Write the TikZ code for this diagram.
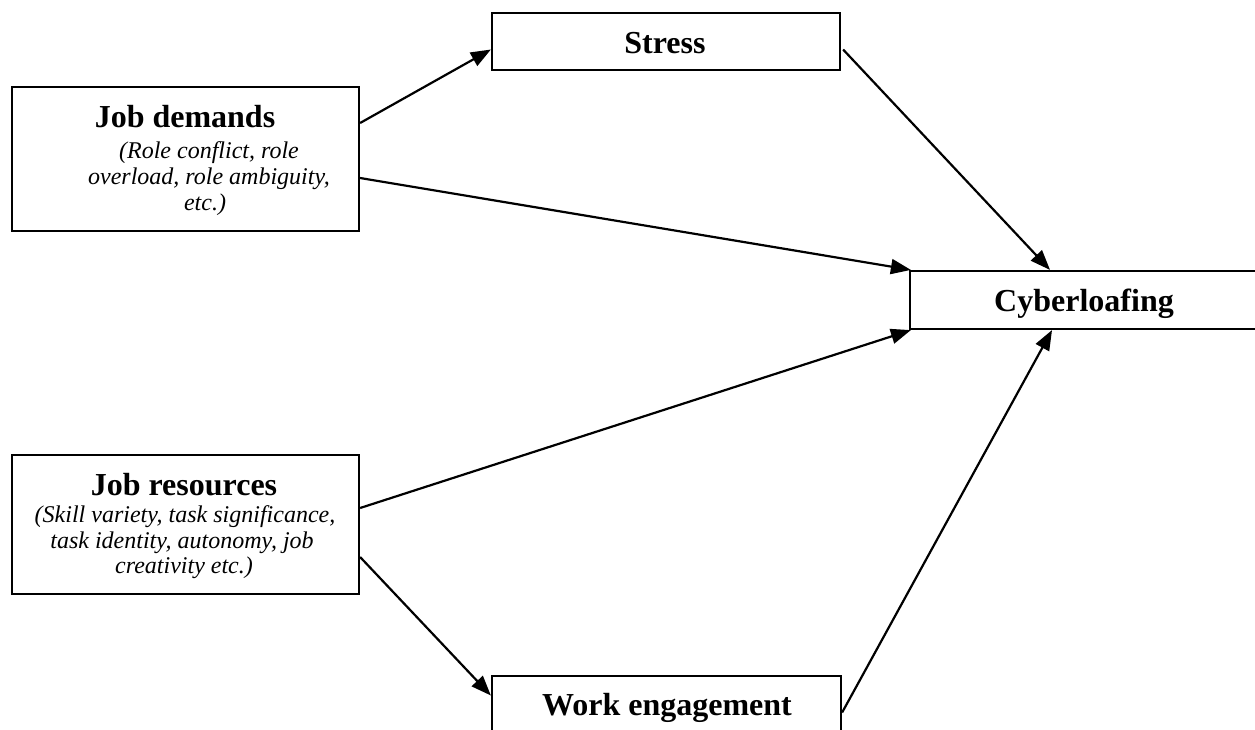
\documentclass[tikz,border=0pt]{standalone}
\usepackage{fontspec}
\setmainfont{Liberation Serif}
\usetikzlibrary{arrows.meta}
\begin{document}
\begin{tikzpicture}[x=1pt,y=-1pt,
  box/.style={draw,line width=2.2pt,rectangle,inner sep=0pt},
  ttl/.style={anchor=base,inner sep=0pt,font=\fontsize{32}{38}\selectfont\bfseries},
  sub/.style={anchor=base,inner sep=0pt,font=\fontsize{24}{27}\selectfont\itshape},
  arr/.style={line width=2.2pt,-{Triangle[length=20pt,width=15pt]}}]
\useasboundingbox (0,0) rectangle (1255,729);
\clip (0,0) rectangle (1255,729);
\node[box,minimum width=347pt,minimum height=144pt] (jd) at (185.5,159) {};
\node[box,minimum width=347pt,minimum height=139pt] (jr) at (185.5,524.5) {};
\node[box,minimum width=348pt,minimum height=57pt] (st) at (666,41.5) {};
\node[box,minimum width=349pt,minimum height=58pt] (we) at (666.5,705) {};
\node[box,minimum width=348pt,minimum height=58pt] (cy) at (1084,300) {};
\node[ttl] (jdt) at (185,127) {Job demands};
\node[sub] (jd1) at (209,158) {(Role conflict, role};
\node[sub] (jd2) at (209,184) {overload, role ambiguity,};
\node[sub] (jd3) at (205,210) {etc.)};
\node[ttl] (jrt) at (184,495) {Job resources};
\node[sub] (jr1) at (185,522) {(Skill variety, task significance,};
\node[sub] (jr2) at (182,548) {task identity, autonomy, job};
\node[sub] (jr3) at (184,573) {creativity etc.)};
\node[ttl] (stt) at (665,53) {Stress};
\node[ttl] (cyt) at (1084,311) {Cyberloafing};
\node[ttl] (wet) at (667,715) {Work engagement};
\draw[arr] ([yshift=36pt]jd.east) -- ([yshift=-8pt]st.west);
\draw[arr] ([yshift=-19pt]jd.east) -- ([xshift=2pt]cy.north west);
\draw[arr] ([xshift=2pt,yshift=-8pt]st.east) -- ([xshift=-34pt]cy.north);
\draw[arr] ([yshift=16.5pt]jr.east) -- ([xshift=2pt]cy.south west);
\draw[arr] ([yshift=-32.5pt]jr.east) -- ([yshift=9.5pt]we.west);
\draw[arr] ([yshift=-7.5pt]we.east) -- ([xshift=-32pt]cy.south);
\end{tikzpicture}
\end{document}
